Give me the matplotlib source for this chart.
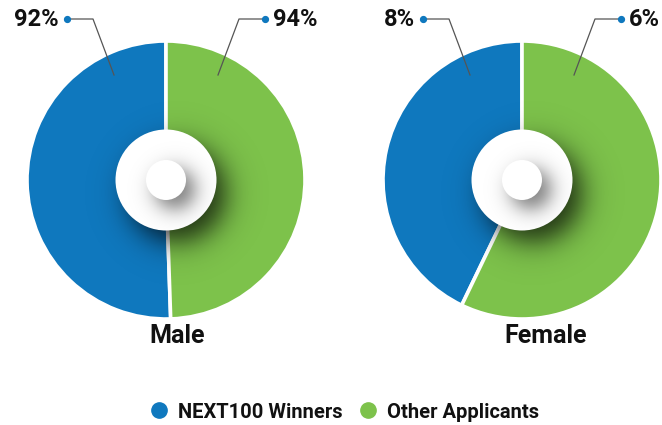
import numpy as np
import matplotlib.pyplot as plt
from matplotlib.patches import Circle
from matplotlib.lines import Line2D

plt.rcParams['font.family'] = ['Roboto', 'DejaVu Sans']

groups = ['Male', 'Female']
winners = [92, 8]
others = [94, 6]
series_names = ['NEXT100 Winners', 'Other Applicants']

blue = '#0f78be'
green = '#7dc24b'

W, H = 662, 425
fig = plt.figure(figsize=(W / 100, H / 100), dpi=100)
ax = fig.add_axes([0, 0, 1, 1])


def Y(y):
    # pixel row -> data y (origin at bottom)
    return H - y


def soft_disk(ax, cx, cy, ext, R, s, A, clip, z):
    # black disk with soft edge, used for the drop shadows
    xs = np.linspace(cx - ext, cx + ext, 300)
    ys = np.linspace(cy - ext, cy + ext, 300)
    gx, gy = np.meshgrid(xs, ys)
    d = np.hypot(gx - cx, gy - cy)
    a = A * 0.5 * (1 - np.tanh((d - R) / s))
    img = np.zeros((300, 300, 4))
    img[..., 3] = a
    im = ax.imshow(img, extent=(cx - ext, cx + ext, cy - ext, cy + ext),
                   origin='lower', interpolation='bilinear', zorder=z)
    im.set_clip_path(clip)


centers = [(166, 180), (522, 180)]
radius = 139
title_x = [177, 546]

for i, g in enumerate(groups):
    cx, cy = centers[i][0], Y(centers[i][1])
    # slice sizes as drawn in the original graphic
    ax.pie([others[i], winners[i]], colors=[blue, green], startangle=90,
           counterclock=True, center=(cx, cy), radius=radius,
           wedgeprops=dict(edgecolor='white', linewidth=2.6))

    pie_clip = Circle((cx, cy), radius - 1, transform=ax.transData)
    soft_disk(ax, cx + 11, cy - 13, 130, 48, 17, 0.75, pie_clip, 3)

    ax.add_patch(Circle((cx, cy), 50.5, facecolor='white', edgecolor='none', zorder=4))
    disk_clip = Circle((cx, cy), 50.5, transform=ax.transData)
    soft_disk(ax, cx + 9, cy - 9, 60, 19, 12, 0.5, disk_clip, 5)
    ax.add_patch(Circle((cx, cy), 20, facecolor='white', edgecolor='none', zorder=6))

    # leader lines and labels
    top = Y(19)
    for side, val in [(-1, winners[i]), (1, others[i])]:
        ax.plot([cx + side * 52, cx + side * 73, cx + side * 99],
                [Y(75), top, top], color='#555555', lw=0.9, zorder=7)
        ax.plot(cx + side * 99, top, 'o', color=blue, ms=4.2, zorder=8)
        ax.text(cx + side * 107, top, f'{val}%', ha='right' if side < 0 else 'left',
                va='center', fontsize=17, fontweight='bold', color='#111111')

    ax.text(title_x[i], Y(336), g, ha='center', va='center', fontsize=18,
            fontweight='bold', color='#111111')

handles = [Line2D([], [], marker='o', ls='', color=c, ms=11) for c in (blue, green)]
ax.legend(handles, series_names, loc='center', bbox_to_anchor=(344 / W, 1 - 412 / H),
          ncol=2, frameon=False, handlelength=1.0, handletextpad=0.45,
          columnspacing=0.75, borderpad=0,
          prop=dict(size=14.5, weight='bold'), labelcolor='#111111')

ax.set_xlim(0, W)
ax.set_ylim(0, H)
ax.set_aspect('equal')
ax.axis('off')

fig.savefig('out.png', dpi=100)
